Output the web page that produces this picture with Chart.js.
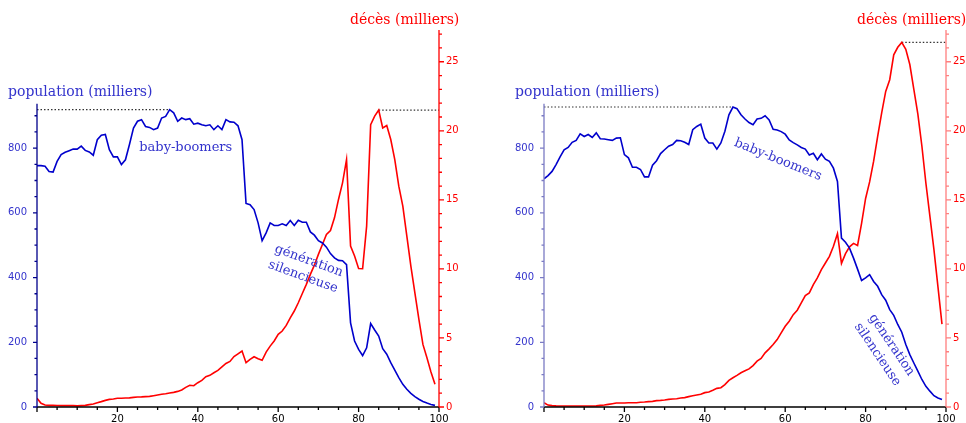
<!DOCTYPE html>
<html>
<head>
<meta charset="utf-8">
<script src="https://cdn.jsdelivr.net/npm/chart.js@4.4.1/dist/chart.umd.min.js"></script>
<style>
  body { margin: 0; background: #fff; width: 966px; height: 423px; overflow: hidden; position: relative; }
  canvas { position: absolute; top: 0; }
</style>
</head>
<body>
<canvas id="chartA" width="470" height="423" style="left:0"></canvas>
<canvas id="chartB" width="459" height="423" style="left:507px"></canvas>
<script>
// ages (x categories)
const ages = [
  0, 1, 2, 3, 4, 5, 6, 7, 8, 9, 10, 11, 12, 13, 14, 15, 16, 17, 18, 19,
  20, 21, 22, 23, 24, 25, 26, 27, 28, 29, 30, 31, 32, 33, 34, 35, 36, 37, 38, 39,
  40, 41, 42, 43, 44, 45, 46, 47, 48, 49, 50, 51, 52, 53, 54, 55, 56, 57, 58, 59,
  60, 61, 62, 63, 64, 65, 66, 67, 68, 69, 70, 71, 72, 73, 74, 75, 76, 77, 78, 79,
  80, 81, 82, 83, 84, 85, 86, 87, 88, 89, 90, 91, 92, 93, 94, 95, 96, 97, 98, 99
];

// left panel: population (milliers) and décès (milliers)
const popA = [
  746, 746, 744, 728, 726, 759, 780, 787, 792, 797,
  797, 806, 793, 788, 778, 826, 840, 842, 795, 773,
  773, 749, 764, 811, 862, 883, 888, 867, 864, 857,
  862, 893, 898, 919, 909, 883, 893, 888, 891, 874,
  877, 872, 869, 872, 857, 869, 857, 888, 881, 880,
  869, 826, 629, 625, 610, 569, 514, 538, 569, 561,
  561, 566, 561, 576, 561, 577, 571, 571, 541, 531,
  514, 507, 494, 474, 461, 453, 452, 440, 260, 204,
  178, 159, 183, 258, 238, 219, 180, 163, 137, 114,
  91, 70, 55, 42, 32, 24, 17, 12, 8, 5
];
const decesA = [
  0.63, 0.27, 0.14, 0.12, 0.12, 0.11, 0.10, 0.11, 0.10, 0.10,
  0.08, 0.10, 0.12, 0.17, 0.22, 0.31, 0.39, 0.48, 0.55, 0.58,
  0.63, 0.63, 0.65, 0.66, 0.70, 0.72, 0.73, 0.75, 0.77, 0.82,
  0.87, 0.92, 0.96, 1.01, 1.06, 1.13, 1.23, 1.42, 1.57, 1.54,
  1.76, 1.93, 2.19, 2.29, 2.48, 2.65, 2.90, 3.15, 3.30, 3.65,
  3.85, 4.05, 3.21, 3.45, 3.64, 3.50, 3.38, 3.98, 4.41, 4.78,
  5.26, 5.50, 5.91, 6.46, 6.95, 7.55, 8.22, 8.88, 9.60, 10.27,
  11.05, 11.77, 12.49, 12.78, 13.70, 15.03, 16.23, 17.92, 11.65, 10.93,
  10.03, 10.01, 13.10, 20.45, 21.06, 21.50, 20.21, 20.38, 19.37, 17.92,
  15.99, 14.54, 12.37, 10.20, 8.27, 6.34, 4.53, 3.57, 2.53, 1.64
];

// right panel
const popB = [
  705, 715, 728, 749, 773, 795, 802, 818, 824, 844,
  836, 842, 833, 847, 829, 828, 826, 824, 831, 832,
  780, 770, 741, 741, 734, 711, 711, 747, 761, 783,
  795, 806, 811, 824, 823, 818, 811, 857, 867, 874,
  831, 816, 816, 797, 816, 852, 903, 927, 922, 903,
  890, 879, 872, 890, 892, 900, 887, 858, 856, 851,
  843, 825, 817, 810, 802, 797, 779, 784, 764, 782,
  766, 759, 738, 697, 522, 509, 491, 460, 426, 391,
  399, 409, 388, 373, 347, 330, 301, 283, 255, 231,
  193, 162, 136, 111, 85, 64, 49, 35, 28, 23
];
const decesB = [
  0.31, 0.14, 0.10, 0.08, 0.07, 0.07, 0.07, 0.07, 0.07, 0.07,
  0.07, 0.07, 0.07, 0.08, 0.12, 0.14, 0.19, 0.24, 0.29, 0.29,
  0.29, 0.31, 0.31, 0.31, 0.34, 0.36, 0.39, 0.41, 0.46, 0.48,
  0.51, 0.55, 0.58, 0.60, 0.65, 0.68, 0.75, 0.82, 0.87, 0.92,
  1.04, 1.09, 1.21, 1.35, 1.40, 1.62, 1.93, 2.12, 2.29, 2.48,
  2.62, 2.76, 3.00, 3.32, 3.51, 3.92, 4.21, 4.52, 4.88, 5.37,
  5.85, 6.21, 6.69, 7.01, 7.54, 8.07, 8.26, 8.86, 9.35, 9.95,
  10.43, 10.91, 11.64, 12.55, 10.40, 11.10, 11.60, 11.85, 11.70, 13.30,
  15.10, 16.30, 17.80, 19.60, 21.30, 22.85, 23.70, 25.50, 26.05, 26.40,
  25.90, 24.80, 23.00, 21.20, 18.90, 16.20, 13.80, 11.40, 8.70, 6.00
];

// tick values
const xTicks = [0, 5, 10, 15, 20, 25, 30, 35, 40, 45, 50, 55, 60, 65, 70, 75, 80, 85, 90, 95, 100];
const popTicks = [0, 50, 100, 150, 200, 250, 300, 350, 400, 450, 500, 550, 600, 650, 700, 750, 800, 850, 900];
const decesTicks = [0, 1, 2, 3, 4, 5, 6, 7, 8, 9, 10, 11, 12, 13, 14, 15, 16, 17, 18, 19, 20, 21, 22, 23, 24, 25, 26, 27];

const BLUE = '#0000cc';
const BLUE_TXT = '#3333cc';
const RED = '#ff0000';
const SERIF = '"DejaVu Serif", serif';
const SANS = '"DejaVu Sans", sans-serif';

function pts(vals) {
  return ages.map((a, i) => ({ x: a, y: vals[i] }));
}

function maxLine(vals, toRight) {
  const m = Math.max(...vals);
  const at = ages[vals.indexOf(m)];
  return toRight ? [{ x: at, y: m }, { x: 100, y: m }] : [{ x: 0, y: m }, { x: at, y: m }];
}

// draws axis lines, tick marks and the texts
const decor = {
  id: 'decor',
  afterDraw(chart) {
    const o = chart.options.plugins.decor;
    const { ctx, chartArea: ca } = chart;
    const sx = chart.scales.x, sp = chart.scales.yPop, sd = chart.scales.yDec;
    ctx.save();
    ctx.lineWidth = 1.3;

    // x axis
    ctx.strokeStyle = '#000';
    ctx.beginPath();
    ctx.moveTo(ca.left, ca.bottom); ctx.lineTo(ca.right, ca.bottom);
    xTicks.forEach(v => {
      const p = sx.getPixelForValue(v);
      ctx.moveTo(p, ca.bottom); ctx.lineTo(p, ca.bottom + (v % 20 === 0 ? 5 : 3));
    });
    ctx.stroke();

    // population axis
    ctx.strokeStyle = o.popAxis;
    ctx.beginPath();
    ctx.moveTo(ca.left, ca.bottom); ctx.lineTo(ca.left, sp.getPixelForValue(937));
    popTicks.forEach(v => {
      const p = sp.getPixelForValue(v);
      ctx.moveTo(ca.left, p); ctx.lineTo(ca.left - (v % 200 === 0 ? 4 : 2.5), p);
    });
    ctx.stroke();

    // deces axis
    ctx.strokeStyle = o.decAxis;
    ctx.beginPath();
    ctx.moveTo(ca.right, ca.bottom); ctx.lineTo(ca.right, ca.top);
    decesTicks.forEach(v => {
      const p = sd.getPixelForValue(v);
      ctx.moveTo(ca.right, p); ctx.lineTo(ca.right + (v % 5 === 0 ? 5 : 3), p);
    });
    ctx.stroke();

    // titles
    ctx.font = '14px ' + SERIF;
    ctx.textBaseline = 'alphabetic';
    ctx.textAlign = 'left';
    ctx.fillStyle = BLUE_TXT;
    ctx.fillText('population (milliers)', 8, 96);
    ctx.fillStyle = RED;
    ctx.fillText('décès (milliers)', 350, 24);

    // annotations
    ctx.font = '13px ' + SERIF;
    ctx.fillStyle = BLUE_TXT;
    ctx.textAlign = 'center';
    ctx.textBaseline = 'middle';
    o.notes.forEach(n => {
      ctx.save();
      ctx.translate(sx.getPixelForValue(n.age), sp.getPixelForValue(n.pop));
      ctx.rotate(n.angle * Math.PI / 180);
      const off = (n.lines.length - 1) * 8.5;
      n.lines.forEach((t, i) => ctx.fillText(t, 0, i * 17 - off));
      ctx.restore();
    });
    ctx.restore();
  }
};

function makePanel(id, pop, deces, cfg) {
  const el = document.getElementById(id);
  return new Chart(el.getContext('2d'), {
    type: 'line',
    data: {
      datasets: [
        { data: pts(pop), yAxisID: 'yPop', borderColor: BLUE, borderWidth: 1.6 },
        { data: pts(deces), yAxisID: 'yDec', borderColor: RED, borderWidth: 1.6 },
        { data: maxLine(pop, false), yAxisID: 'yPop', borderColor: '#333', borderWidth: 1.2, borderDash: [1.5, 2] },
        { data: maxLine(deces, true), yAxisID: 'yDec', borderColor: '#333', borderWidth: 1.2, borderDash: [1.5, 2] }
      ]
    },
    options: {
      responsive: false,
      animation: false,
      devicePixelRatio: 1,
      parsing: false,
      elements: { point: { radius: 0 }, line: { tension: 0 } },
      layout: { padding: { top: 30, left: 0, right: 0, bottom: 0 } },
      plugins: {
        legend: { display: false },
        tooltip: { enabled: false },
        decor: cfg
      },
      scales: {
        x: {
          type: 'linear', min: 0, max: 100,
          afterBuildTicks: s => { s.ticks = xTicks.map(v => ({ value: v })); },
          afterFit: s => { s.height = 15; },
          grid: { display: false, drawTicks: false },
          border: { display: false },
          ticks: {
            autoSkip: false, maxRotation: 0, padding: 6, color: '#000',
            font: { family: SANS, size: 10 },
            callback: v => (v % 20 === 0 && v > 0 ? String(v) : '')
          }
        },
        yPop: {
          type: 'linear', position: 'left', min: 0, max: 1165,
          afterBuildTicks: s => { s.ticks = popTicks.map(v => ({ value: v })); },
          afterFit: s => { s.width = 37; },
          grid: { display: false, drawTicks: false },
          border: { display: false },
          ticks: {
            autoSkip: false, padding: 10, color: BLUE_TXT,
            font: { family: SANS, size: 10 },
            callback: v => (v % 200 === 0 ? String(v) : '')
          }
        },
        yDec: {
          type: 'linear', position: 'right', min: 0, max: 27.3,
          afterBuildTicks: s => { s.ticks = decesTicks.map(v => ({ value: v })); },
          afterFit: s => { s.width = cfg.rightWidth; },
          grid: { display: false, drawTicks: false },
          border: { display: false },
          ticks: {
            autoSkip: false, padding: 7, color: RED,
            font: { family: SANS, size: 10 },
            callback: v => (v % 5 === 0 ? String(v) : '')
          }
        }
      }
    },
    plugins: [decor]
  });
}

makePanel('chartA', popA, decesA, {
  rightWidth: 31,
  popAxis: '#00008b',
  decAxis: '#ff0000',
  notes: [
    { lines: ['baby-boomers'], age: 37, pop: 800, angle: 0 },
    { lines: ['génération', 'silencieuse'], age: 66.9, pop: 427, angle: 20 }
  ]
});

makePanel('chartB', popB, decesB, {
  rightWidth: 20,
  popAxis: '#7b7bc4',
  decAxis: '#ff7f7f',
  notes: [
    { lines: ['baby-boomers'], age: 58.2, pop: 764, angle: 22 },
    { lines: ['génération', 'silencieuse'], age: 84.7, pop: 177, angle: 56 }
  ]
});
</script>
</body>
</html>
